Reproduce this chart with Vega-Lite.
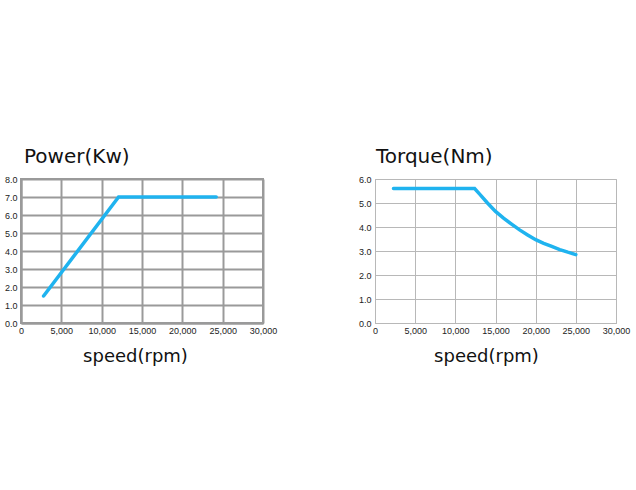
{
  "$schema": "https://vega.github.io/schema/vega-lite/v6.json",
  "background": "white",
  "padding": {"left": 3, "top": 146, "right": 0, "bottom": 0},
  "spacing": 79,
  "config": {
    "font": "DejaVu Sans",
    "view": {"stroke": "#a0a0a0", "strokeWidth": 1.5},
    "axis": {
      "labelFont": "Liberation Sans",
      "labelFontSize": 9,
      "labelColor": "#222",
      "labelOverlap": false,
      "labelFlush": false,
      "ticks": false,
      "domainColor": "#a0a0a0",
      "gridColor": "#a0a0a0",
      "titleFont": "DejaVu Sans",
      "titleFontWeight": "normal",
      "titleColor": "#111"
    },
    "title": {"font": "DejaVu Sans", "fontWeight": "normal", "fontSize": 20, "anchor": "start", "frame": "group", "color": "#111", "offset": 8}
  },
  "datasets": {
    "power": [
      {"speed": 2800, "value": 1.5},
      {"speed": 12100, "value": 7.0},
      {"speed": 24200, "value": 7.0}
    ],
    "torque": [
      {"speed": 2300, "value": 5.6},
      {"speed": 12400, "value": 5.6},
      {"speed": 13000, "value": 5.38},
      {"speed": 14000, "value": 5.0},
      {"speed": 15000, "value": 4.65},
      {"speed": 16000, "value": 4.37},
      {"speed": 17000, "value": 4.12},
      {"speed": 18000, "value": 3.88},
      {"speed": 19000, "value": 3.67},
      {"speed": 20000, "value": 3.47},
      {"speed": 21000, "value": 3.32},
      {"speed": 22000, "value": 3.19},
      {"speed": 23000, "value": 3.06},
      {"speed": 24000, "value": 2.95},
      {"speed": 25000, "value": 2.85}
    ]
  },
  "hconcat": [
    {
      "title": {"text": "Power(Kw)", "dx": 3},
      "width": 242,
      "height": 144,
      "view": {"stroke": "#9a9a9a", "strokeWidth": 2},
      "data": {"name": "power"},
      "mark": {"type": "line", "color": "#1fb3ef", "strokeWidth": 3.5, "strokeCap": "round"},
      "encoding": {
        "x": {"field": "speed", "type": "quantitative", "scale": {"domain": [0, 30000], "nice": false},
          "axis": {"values": [0, 5000, 10000, 15000, 20000, 25000, 30000], "format": ",d", "title": "speed(rpm)", "titleFontSize": 18, "titlePadding": 12, "titleX": 114, "gridWidth": 2, "gridColor": "#9a9a9a", "domainWidth": 2, "domainColor": "#9a9a9a", "labelPadding": 3}},
        "y": {"field": "value", "type": "quantitative", "scale": {"domain": [0, 8], "nice": false},
          "axis": {"values": [0, 1, 2, 3, 4, 5, 6, 7, 8], "format": ".1f", "title": null, "gridWidth": 2, "gridColor": "#9a9a9a", "domainWidth": 2, "domainColor": "#9a9a9a", "labelPadding": 4}}
      }
    },
    {
      "title": {"text": "Torque(Nm)", "dx": 1},
      "width": 241,
      "height": 144,
      "view": {"stroke": "#b8b8b8", "strokeWidth": 1},
      "data": {"name": "torque"},
      "mark": {"type": "line", "color": "#1fb3ef", "strokeWidth": 3.5, "strokeCap": "round"},
      "encoding": {
        "x": {"field": "speed", "type": "quantitative", "scale": {"domain": [0, 30000], "nice": false},
          "axis": {"values": [0, 5000, 10000, 15000, 20000, 25000, 30000], "format": ",d", "title": "speed(rpm)", "titleFontSize": 18, "titlePadding": 12, "titleX": 111, "gridColor": "#b8b8b8", "domainColor": "#b8b8b8", "labelPadding": 3}},
        "y": {"field": "value", "type": "quantitative", "scale": {"domain": [0, 6], "nice": false},
          "axis": {"values": [0, 1, 2, 3, 4, 5, 6], "format": ".1f", "title": null, "gridColor": "#b8b8b8", "domainColor": "#b8b8b8", "labelPadding": 4}}
      }
    }
  ]
}
